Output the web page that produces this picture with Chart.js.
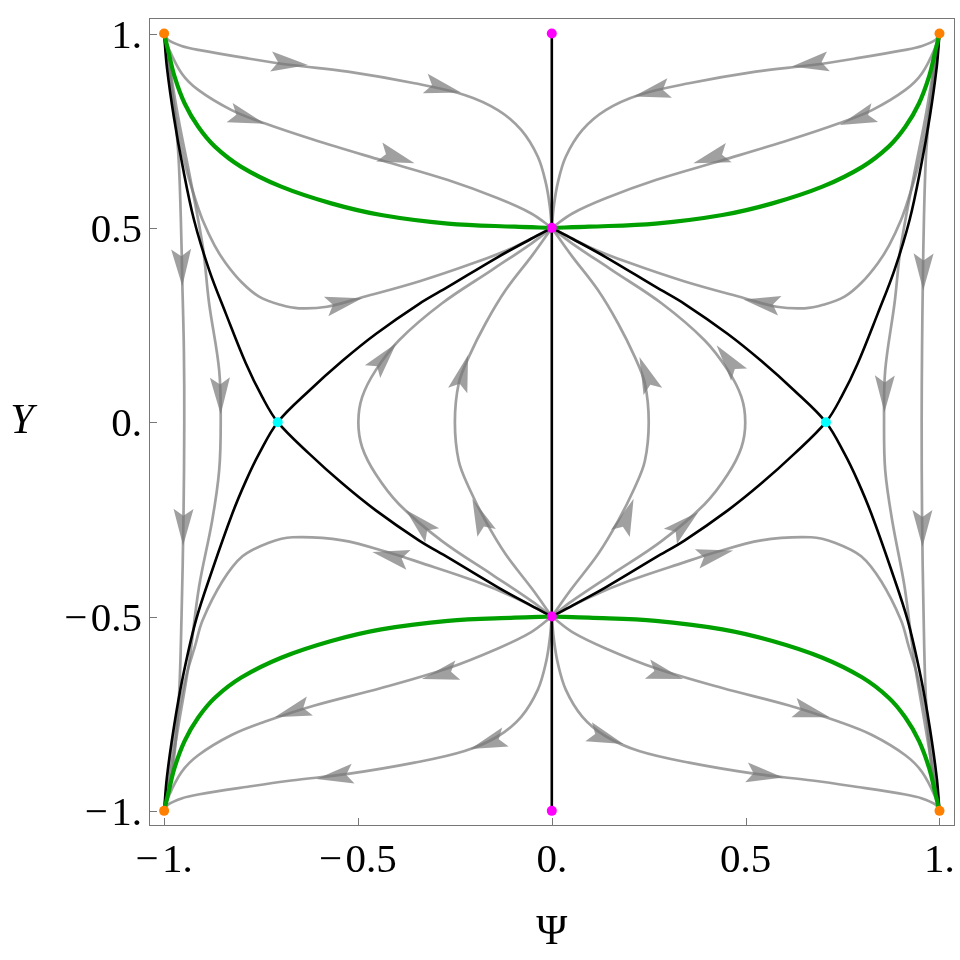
<!DOCTYPE html>
<html>
<head>
<meta charset="utf-8">
<script src="https://cdn.jsdelivr.net/npm/chart.js@4.4.1/dist/chart.umd.min.js"></script>
<style>
  html, body { margin: 0; padding: 0; background: #fff; }
  #wrap { width: 960px; height: 960px; }
</style>
</head>
<body>
<div id="wrap"><canvas id="phaseChart" width="960" height="960"></canvas></div>
<script>
// tick values and labels
const tickValues = [-1, -0.5, 0, 0.5, 1];
const tickLabels = ['\u2212\u200A1.', '\u2212\u200A0.5', '0.', '0.5', '1.'];

// fixed points
const orangePts = [[-1, 1], [1, 1], [-1, -1], [1, -1]];
const magentaPts = [[0, 1], [0, 0.5], [0, -0.5], [0, -1]];
const cyanPts = [[-0.707, 0], [0.707, 0]];

// gray streamlines, left half
const grayC1L = [[-1,1],[-0.99,0.984],[-0.955,0.968],[-0.912,0.958],[-0.784,0.936],[-0.672,0.919],[-0.526,0.902],[-0.354,0.872],[-0.225,0.842],[-0.139,0.803],[-0.079,0.752],[-0.036,0.683],[-0.015,0.614],[-0.005,0.554],[0,0.5]];
const grayC2L = [[-1,1],[-0.99,0.966],[-0.955,0.898],[-0.912,0.855],[-0.826,0.803],[-0.741,0.769],[-0.612,0.726],[-0.44,0.674],[-0.268,0.623],[-0.139,0.576],[-0.053,0.537],[0,0.5]];
const grayC4L = [[-1,1],[-0.99,0.915],[-0.97,0.786],[-0.945,0.66],[-0.92,0.575],[-0.901,0.521],[-0.87,0.455],[-0.841,0.409],[-0.8,0.36],[-0.755,0.323],[-0.7,0.302],[-0.652,0.293],[-0.58,0.297],[-0.497,0.319],[-0.343,0.362],[-0.2,0.41],[-0.096,0.451],[0,0.5]];
const grayB1L = [[0,-0.5],[-0.005,-0.556],[-0.015,-0.618],[-0.036,-0.688],[-0.079,-0.758],[-0.139,-0.808],[-0.225,-0.846],[-0.354,-0.876],[-0.526,-0.905],[-0.672,-0.922],[-0.784,-0.938],[-0.912,-0.958],[-0.955,-0.968],[-0.99,-0.984],[-1,-1]];
const grayB2L = [[0,-0.5],[-0.053,-0.54],[-0.139,-0.582],[-0.268,-0.633],[-0.44,-0.684],[-0.612,-0.729],[-0.741,-0.771],[-0.826,-0.805],[-0.912,-0.857],[-0.955,-0.9],[-0.99,-0.966],[-1,-1]];
const grayB4L = [[0,-0.5],[-0.096,-0.451],[-0.2,-0.408],[-0.343,-0.36],[-0.412,-0.338],[-0.54,-0.304],[-0.669,-0.296],[-0.73,-0.31],[-0.798,-0.345],[-0.85,-0.41],[-0.901,-0.51],[-0.92,-0.575],[-0.945,-0.66],[-0.97,-0.786],[-0.99,-0.915],[-1,-1]];
const grayE1L = [[-1,1],[-0.981,0.872],[-0.964,0.7],[-0.957,0.528],[-0.953,0.357],[-0.949,0.185],[-0.948,0],[-0.95,-0.24],[-0.955,-0.497],[-0.962,-0.712],[-0.977,-0.884],[-1,-1]];
const grayE2L = [[-1,1],[-0.99,0.941],[-0.964,0.786],[-0.93,0.614],[-0.9,0.45],[-0.884,0.306],[-0.858,0.134],[-0.854,0],[-0.858,-0.124],[-0.876,-0.253],[-0.91,-0.424],[-0.935,-0.614],[-0.964,-0.786],[-0.99,-0.941],[-1,-1]];
const grayI1L = [[0,0.5],[-0.051,0.461],[-0.154,0.392],[-0.283,0.306],[-0.394,0.211],[-0.454,0.134],[-0.489,0.065],[-0.499,0],[-0.489,-0.065],[-0.454,-0.134],[-0.394,-0.211],[-0.283,-0.306],[-0.154,-0.392],[-0.051,-0.461],[0,-0.5]];
const grayI2L = [[0,0.5],[-0.05,0.43],[-0.119,0.34],[-0.171,0.254],[-0.214,0.168],[-0.24,0.1],[-0.25,0],[-0.24,-0.1],[-0.214,-0.168],[-0.171,-0.254],[-0.119,-0.34],[-0.05,-0.43],[0,-0.5]];

// gray streamlines, right half
const grayC1R = [[1,1],[0.99,0.984],[0.955,0.968],[0.912,0.958],[0.784,0.936],[0.672,0.919],[0.526,0.902],[0.354,0.872],[0.225,0.842],[0.139,0.803],[0.079,0.752],[0.036,0.683],[0.015,0.614],[0.005,0.554],[0,0.5]];
const grayC2R = [[1,1],[0.99,0.966],[0.955,0.898],[0.912,0.855],[0.826,0.803],[0.741,0.769],[0.612,0.726],[0.44,0.674],[0.268,0.623],[0.139,0.576],[0.053,0.537],[0,0.5]];
const grayC4R = [[1,1],[0.99,0.915],[0.97,0.786],[0.945,0.66],[0.92,0.575],[0.901,0.521],[0.87,0.455],[0.841,0.409],[0.8,0.36],[0.755,0.323],[0.7,0.302],[0.652,0.293],[0.58,0.297],[0.497,0.319],[0.343,0.362],[0.2,0.41],[0.096,0.451],[0,0.5]];
const grayB1R = [[0,-0.5],[0.005,-0.556],[0.015,-0.618],[0.036,-0.688],[0.079,-0.758],[0.139,-0.808],[0.225,-0.846],[0.354,-0.876],[0.526,-0.905],[0.672,-0.922],[0.784,-0.938],[0.912,-0.958],[0.955,-0.968],[0.99,-0.984],[1,-1]];
const grayB2R = [[0,-0.5],[0.053,-0.54],[0.139,-0.582],[0.268,-0.633],[0.44,-0.684],[0.612,-0.729],[0.741,-0.771],[0.826,-0.805],[0.912,-0.857],[0.955,-0.9],[0.99,-0.966],[1,-1]];
const grayB4R = [[0,-0.5],[0.096,-0.451],[0.2,-0.408],[0.343,-0.36],[0.412,-0.338],[0.54,-0.304],[0.669,-0.296],[0.73,-0.31],[0.798,-0.345],[0.85,-0.41],[0.901,-0.51],[0.92,-0.575],[0.945,-0.66],[0.97,-0.786],[0.99,-0.915],[1,-1]];
const grayE1R = [[1,1],[0.981,0.872],[0.966,0.7],[0.96,0.528],[0.957,0.357],[0.955,0.185],[0.954,0],[0.955,-0.24],[0.959,-0.497],[0.965,-0.712],[0.979,-0.884],[1,-1]];
const grayE2R = [[1,1],[0.99,0.941],[0.964,0.786],[0.93,0.614],[0.9,0.45],[0.884,0.306],[0.86,0.134],[0.857,0],[0.86,-0.124],[0.878,-0.253],[0.91,-0.424],[0.935,-0.614],[0.964,-0.786],[0.99,-0.941],[1,-1]];
const grayI1R = [[0,0.5],[0.051,0.461],[0.154,0.392],[0.283,0.306],[0.394,0.211],[0.454,0.134],[0.489,0.065],[0.499,0],[0.489,-0.065],[0.454,-0.134],[0.394,-0.211],[0.283,-0.306],[0.154,-0.392],[0.051,-0.461],[0,-0.5]];
const grayI2R = [[0,0.5],[0.05,0.43],[0.119,0.34],[0.171,0.254],[0.214,0.168],[0.24,0.1],[0.25,0],[0.24,-0.1],[0.214,-0.168],[0.171,-0.254],[0.119,-0.34],[0.05,-0.43],[0,-0.5]];

// green curves
const greenTL = [[-1,1],[-0.99,0.958],[-0.973,0.889],[-0.947,0.82],[-0.912,0.76],[-0.869,0.709],[-0.801,0.657],[-0.698,0.606],[-0.569,0.563],[-0.44,0.533],[-0.268,0.511],[-0.096,0.503],[0,0.5]];
const greenTR = [[1,1],[0.99,0.958],[0.973,0.889],[0.947,0.82],[0.912,0.76],[0.869,0.709],[0.801,0.657],[0.698,0.606],[0.569,0.563],[0.44,0.533],[0.268,0.511],[0.096,0.503],[0,0.5]];
const greenBL = [[-1,-1],[-0.99,-0.958],[-0.973,-0.889],[-0.947,-0.82],[-0.912,-0.76],[-0.869,-0.709],[-0.801,-0.657],[-0.698,-0.606],[-0.569,-0.563],[-0.44,-0.533],[-0.268,-0.511],[-0.096,-0.503],[0,-0.5]];
const greenBR = [[1,-1],[0.99,-0.958],[0.973,-0.889],[0.947,-0.82],[0.912,-0.76],[0.869,-0.709],[0.801,-0.657],[0.698,-0.606],[0.569,-0.563],[0.44,-0.533],[0.268,-0.511],[0.096,-0.503],[0,-0.5]];

// black separatrices
const blackADL = [[-1,1],[-0.993,0.915],[-0.975,0.786],[-0.952,0.657],[-0.923,0.521],[-0.884,0.392],[-0.841,0.28],[-0.789,0.151],[-0.747,0.065],[-0.707,0],[-0.626,-0.081],[-0.54,-0.158],[-0.454,-0.227],[-0.343,-0.304],[-0.268,-0.348],[-0.139,-0.425],[-0.053,-0.472],[0,-0.5]];
const blackBCL = [[0,0.5],[-0.053,0.472],[-0.139,0.425],[-0.268,0.348],[-0.343,0.304],[-0.454,0.227],[-0.54,0.158],[-0.626,0.081],[-0.707,0],[-0.755,-0.081],[-0.789,-0.151],[-0.824,-0.235],[-0.876,-0.381],[-0.918,-0.51],[-0.952,-0.657],[-0.975,-0.786],[-0.993,-0.915],[-1,-1]];
const blackADR = [[1,1],[0.993,0.915],[0.975,0.786],[0.952,0.657],[0.923,0.521],[0.884,0.392],[0.841,0.28],[0.789,0.151],[0.747,0.065],[0.707,0],[0.626,-0.081],[0.54,-0.158],[0.454,-0.227],[0.343,-0.304],[0.268,-0.348],[0.139,-0.425],[0.053,-0.472],[0,-0.5]];
const blackBCR = [[0,0.5],[0.053,0.472],[0.139,0.425],[0.268,0.348],[0.343,0.304],[0.454,0.227],[0.54,0.158],[0.626,0.081],[0.707,0],[0.755,-0.081],[0.789,-0.151],[0.824,-0.235],[0.876,-0.381],[0.918,-0.51],[0.952,-0.657],[0.975,-0.786],[0.993,-0.915],[1,-1]];
const blackAxis = [[0,-1],[0,1]];

// arrowheads: [tipX, tipY, tailX, tailY]
const arrows = [
  [-0.629,0.919,-0.723,0.928], [-0.234,0.848,-0.328,0.872],
  [-0.740,0.768,-0.826,0.795], [-0.354,0.666,-0.448,0.696],
  [-0.489,0.319,-0.586,0.297],
  [-0.953,0.350,-0.956,0.442], [-0.951,-0.318,-0.950,-0.228],
  [-0.854,0.020,-0.856,0.115],
  [-0.401,0.203,-0.459,0.134], [-0.377,-0.225,-0.313,-0.287],
  [-0.216,0.173,-0.240,0.091], [-0.205,-0.197,-0.171,-0.278],
  [-0.463,-0.334,-0.380,-0.352],
  [-0.335,-0.661,-0.247,-0.639], [-0.715,-0.759,-0.620,-0.729],
  [-0.210,-0.841,-0.122,-0.811], [-0.607,-0.918,-0.517,-0.905],
  [0.619,0.915,0.709,0.928], [0.211,0.838,0.301,0.859],
  [0.743,0.765,0.829,0.795], [0.365,0.666,0.451,0.692],
  [0.494,0.316,0.580,0.301],
  [0.958,0.339,0.959,0.434], [0.956,-0.321,0.956,-0.231],
  [0.858,0.025,0.859,0.118],
  [0.425,0.198,0.468,0.142], [0.378,-0.231,0.318,-0.283],
  [0.226,0.168,0.253,0.099], [0.211,-0.197,0.180,-0.278],
  [0.468,-0.330,0.378,-0.351],
  [0.339,-0.661,0.245,-0.635], [0.717,-0.759,0.623,-0.734],
  [0.185,-0.828,0.099,-0.798], [0.597,-0.914,0.503,-0.901]
];

const FONT = "'Liberation Serif', 'DejaVu Serif', serif";
const GRAY = 'rgba(120,120,120,0.7)';

function curve(pts, color, width, order) {
  return {
    data: pts.map(p => ({ x: p[0], y: p[1] })),
    showLine: true,
    borderColor: color,
    borderWidth: width,
    pointRadius: 0,
    tension: 0.35,
    fill: false,
    order: order
  };
}

function dots(pts, color) {
  return {
    data: pts.map(p => ({ x: p[0], y: p[1] })),
    showLine: false,
    pointRadius: 5,
    pointBackgroundColor: color,
    pointBorderWidth: 0,
    order: 0
  };
}

const grayCurves = [grayC1L, grayC2L, grayC4L, grayB1L, grayB2L, grayB4L, grayE1L, grayE2L, grayI1L, grayI2L,
                    grayC1R, grayC2R, grayC4R, grayB1R, grayB2R, grayB4R, grayE1R, grayE2R, grayI1R, grayI2R];

const datasets = [];
grayCurves.forEach(c => datasets.push(curve(c, GRAY, 2.7, 3)));
[blackADL, blackBCL, blackADR, blackBCR, blackAxis].forEach(c => datasets.push(curve(c, '#000', 2.6, 2)));
[greenTL, greenTR, greenBL, greenBR].forEach(c => datasets.push(curve(c, '#00a000', 4.2, 1)));
datasets.push(dots(orangePts, '#ff8000'));
datasets.push(dots(magentaPts, '#ff00ff'));
datasets.push(dots(cyanPts, '#00ffff'));

// arrows go right after the last gray curve; frame, ticks and labels after everything
const phasePlugin = {
  id: 'phaseExtras',
  afterDatasetDraw(chart, args) {
    if (args.index !== 0) return;
    const ctx = chart.ctx, xs = chart.scales.x, ys = chart.scales.y;
    ctx.save();
    ctx.fillStyle = GRAY;
    arrows.forEach(a => {
      const tx = xs.getPixelForValue(a[0]), ty = ys.getPixelForValue(a[1]);
      const bx = xs.getPixelForValue(a[2]), by = ys.getPixelForValue(a[3]);
      const ang = Math.atan2(ty - by, tx - bx);
      ctx.save();
      ctx.translate(tx, ty);
      ctx.rotate(ang);
      ctx.beginPath();
      ctx.moveTo(0, 0);
      ctx.lineTo(-37, -10);
      ctx.lineTo(-30, 0);
      ctx.lineTo(-37, 10);
      ctx.closePath();
      ctx.fill();
      ctx.restore();
    });
    ctx.restore();
  },
  afterDraw(chart) {
    const ctx = chart.ctx, a = chart.chartArea, xs = chart.scales.x, ys = chart.scales.y;
    ctx.save();
    ctx.strokeStyle = '#777';
    ctx.lineWidth = 1;
    ctx.strokeRect(a.left + 0.5, a.top + 0.5, a.right - a.left - 1, a.bottom - a.top - 1);
    ctx.beginPath();
    tickValues.forEach(v => {
      const px = Math.round(xs.getPixelForValue(v)) + 0.5;
      ctx.moveTo(px, a.bottom);
      ctx.lineTo(px, a.bottom - 8);
      const py = Math.round(ys.getPixelForValue(v)) + 0.5;
      ctx.moveTo(a.left, py);
      ctx.lineTo(a.left + 8, py);
    });
    ctx.stroke();

    ctx.fillStyle = '#000';
    ctx.font = '41px ' + FONT;
    ctx.textBaseline = 'alphabetic';
    tickValues.forEach((v, i) => {
      ctx.textAlign = 'right';
      ctx.fillText(tickLabels[i], a.left - 7, ys.getPixelForValue(v) + 14);
      ctx.textAlign = 'center';
      ctx.fillText(tickLabels[i], xs.getPixelForValue(v), 872);
    });

    ctx.textAlign = 'center';
    ctx.font = 'italic 42px ' + FONT;
    ctx.fillText('Y', 22, 433);
    ctx.font = '42px ' + FONT;
    ctx.fillText('\u03A8', xs.getPixelForValue(0), 944);
    ctx.restore();
  }
};

new Chart(document.getElementById('phaseChart'), {
  type: 'scatter',
  data: { datasets: datasets },
  options: {
    responsive: false,
    animation: false,
    layout: { padding: { top: 18, right: 2, left: 0, bottom: 0 } },
    plugins: { legend: { display: false }, tooltip: { enabled: false } },
    scales: {
      x: {
        type: 'linear',
        min: -1.039,
        max: 1.04,
        afterBuildTicks: s => { s.ticks = tickValues.map(v => ({ value: v })); },
        afterFit: s => { s.height = 134; },
        ticks: { display: false },
        grid: { display: false, drawTicks: false },
        border: { display: false }
      },
      y: {
        type: 'linear',
        min: -1.039,
        max: 1.04,
        afterBuildTicks: s => { s.ticks = tickValues.map(v => ({ value: v })); },
        afterFit: s => { s.width = 149; },
        ticks: { display: false },
        grid: { display: false, drawTicks: false },
        border: { display: false }
      }
    }
  },
  plugins: [phasePlugin]
});
</script>
</body>
</html>
